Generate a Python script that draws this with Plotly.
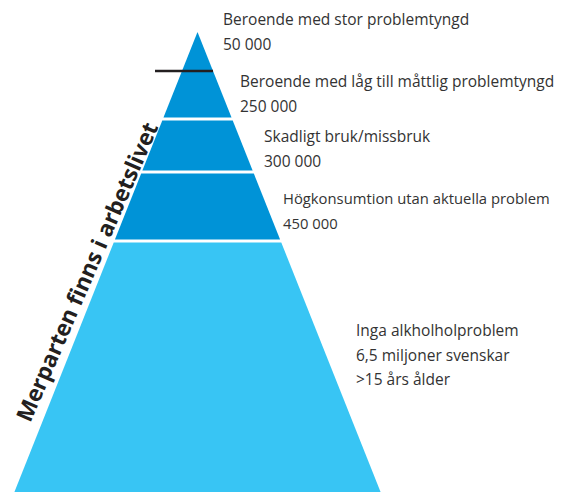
import plotly.graph_objects as go

# ---- data ----
categories = [
    "Beroende med stor problemtyngd",
    "Beroende med låg till måttlig problemtyngd",
    "Skadligt bruk/missbruk",
    "Högkonsumtion utan aktuella problem",
    "Inga alkholholproblem",
]
value_labels = ["50 000", "250 000", "300 000", "450 000", "6,5 miljoner svenskar"]
extra_lines = ["", "", "", "", ">15 års ålder"]
# tier boundaries measured as depth below the pyramid apex (pyramid height = 460)
tier_top = [0, 39, 87, 140, 209]
tier_bottom = [39, 87, 140, 209, 460]
side_title = "Merparten finns i arbetslivet"

# ---- styling / layout ----
W, H = 564, 492
OFF = 8            # default page body margin
APEX_Y = 32
CX = 197.5
K = 0.398          # half-width growth per unit depth
GAP = 1.5          # half white gap between tiers
DARK = "#0093D7"
LIGHT = "#38C5F4"
TEXT = "#333333"
colors = [DARK, DARK, DARK, DARK, LIGHT]
label_x = [221, 238, 262, 281, 354]
label_y = [19, 81, 136, 198, 330]
label_size = [15.5, 15.5, 15.5, 14.8, 15.5]
LINE = 24.5

fig = go.Figure()

for i in range(len(categories)):
    t, b = tier_top[i], tier_bottom[i]
    gt = GAP if (i >= 2) else 0
    gb = GAP if (1 <= i <= 3) else 0
    d0, d1 = t + gt, b - gb
    xs = [CX - K * d0, CX + K * d0, CX + K * d1, CX - K * d1, CX - K * d0]
    ys = [APEX_Y + d0, APEX_Y + d0, APEX_Y + d1, APEX_Y + d1, APEX_Y + d0]
    fig.add_trace(go.Scatter(
        x=xs, y=ys, fill="toself", fillcolor=colors[i], mode="lines",
        line=dict(width=0, color=colors[i]), hoverinfo="skip", showlegend=False,
    ))

# black divider line between first two tiers
d = tier_bottom[0]
fig.add_trace(go.Scatter(
    x=[155, CX + K * d], y=[APEX_Y + d, APEX_Y + d], mode="lines",
    line=dict(width=2.5, color="#231F20"), hoverinfo="skip", showlegend=False,
))

for i in range(len(categories)):
    lines = [categories[i], value_labels[i]] + ([extra_lines[i]] if extra_lines[i] else [])
    for j, s in enumerate(lines):
        fig.add_annotation(
            x=label_x[i], y=label_y[i] + j * LINE, text=s, showarrow=False,
            xanchor="left", yanchor="middle",
            font=dict(family="Open Sans", size=label_size[i], color=TEXT),
        )

fig.add_annotation(
    x=86, y=272, text="<b>" + side_title + "</b>", showarrow=False,
    textangle=-66.6, xanchor="center", yanchor="middle",
    font=dict(family="Open Sans", size=22.5, color="#231F20"),
)

fig.update_layout(
    width=W - OFF, height=H - OFF, margin=dict(l=0, r=0, t=0, b=0),
    paper_bgcolor="white", plot_bgcolor="white",
    xaxis=dict(range=[OFF, W], visible=False, fixedrange=True),
    yaxis=dict(range=[H, OFF], visible=False, fixedrange=True),
)

fig.write_html("out.html")
